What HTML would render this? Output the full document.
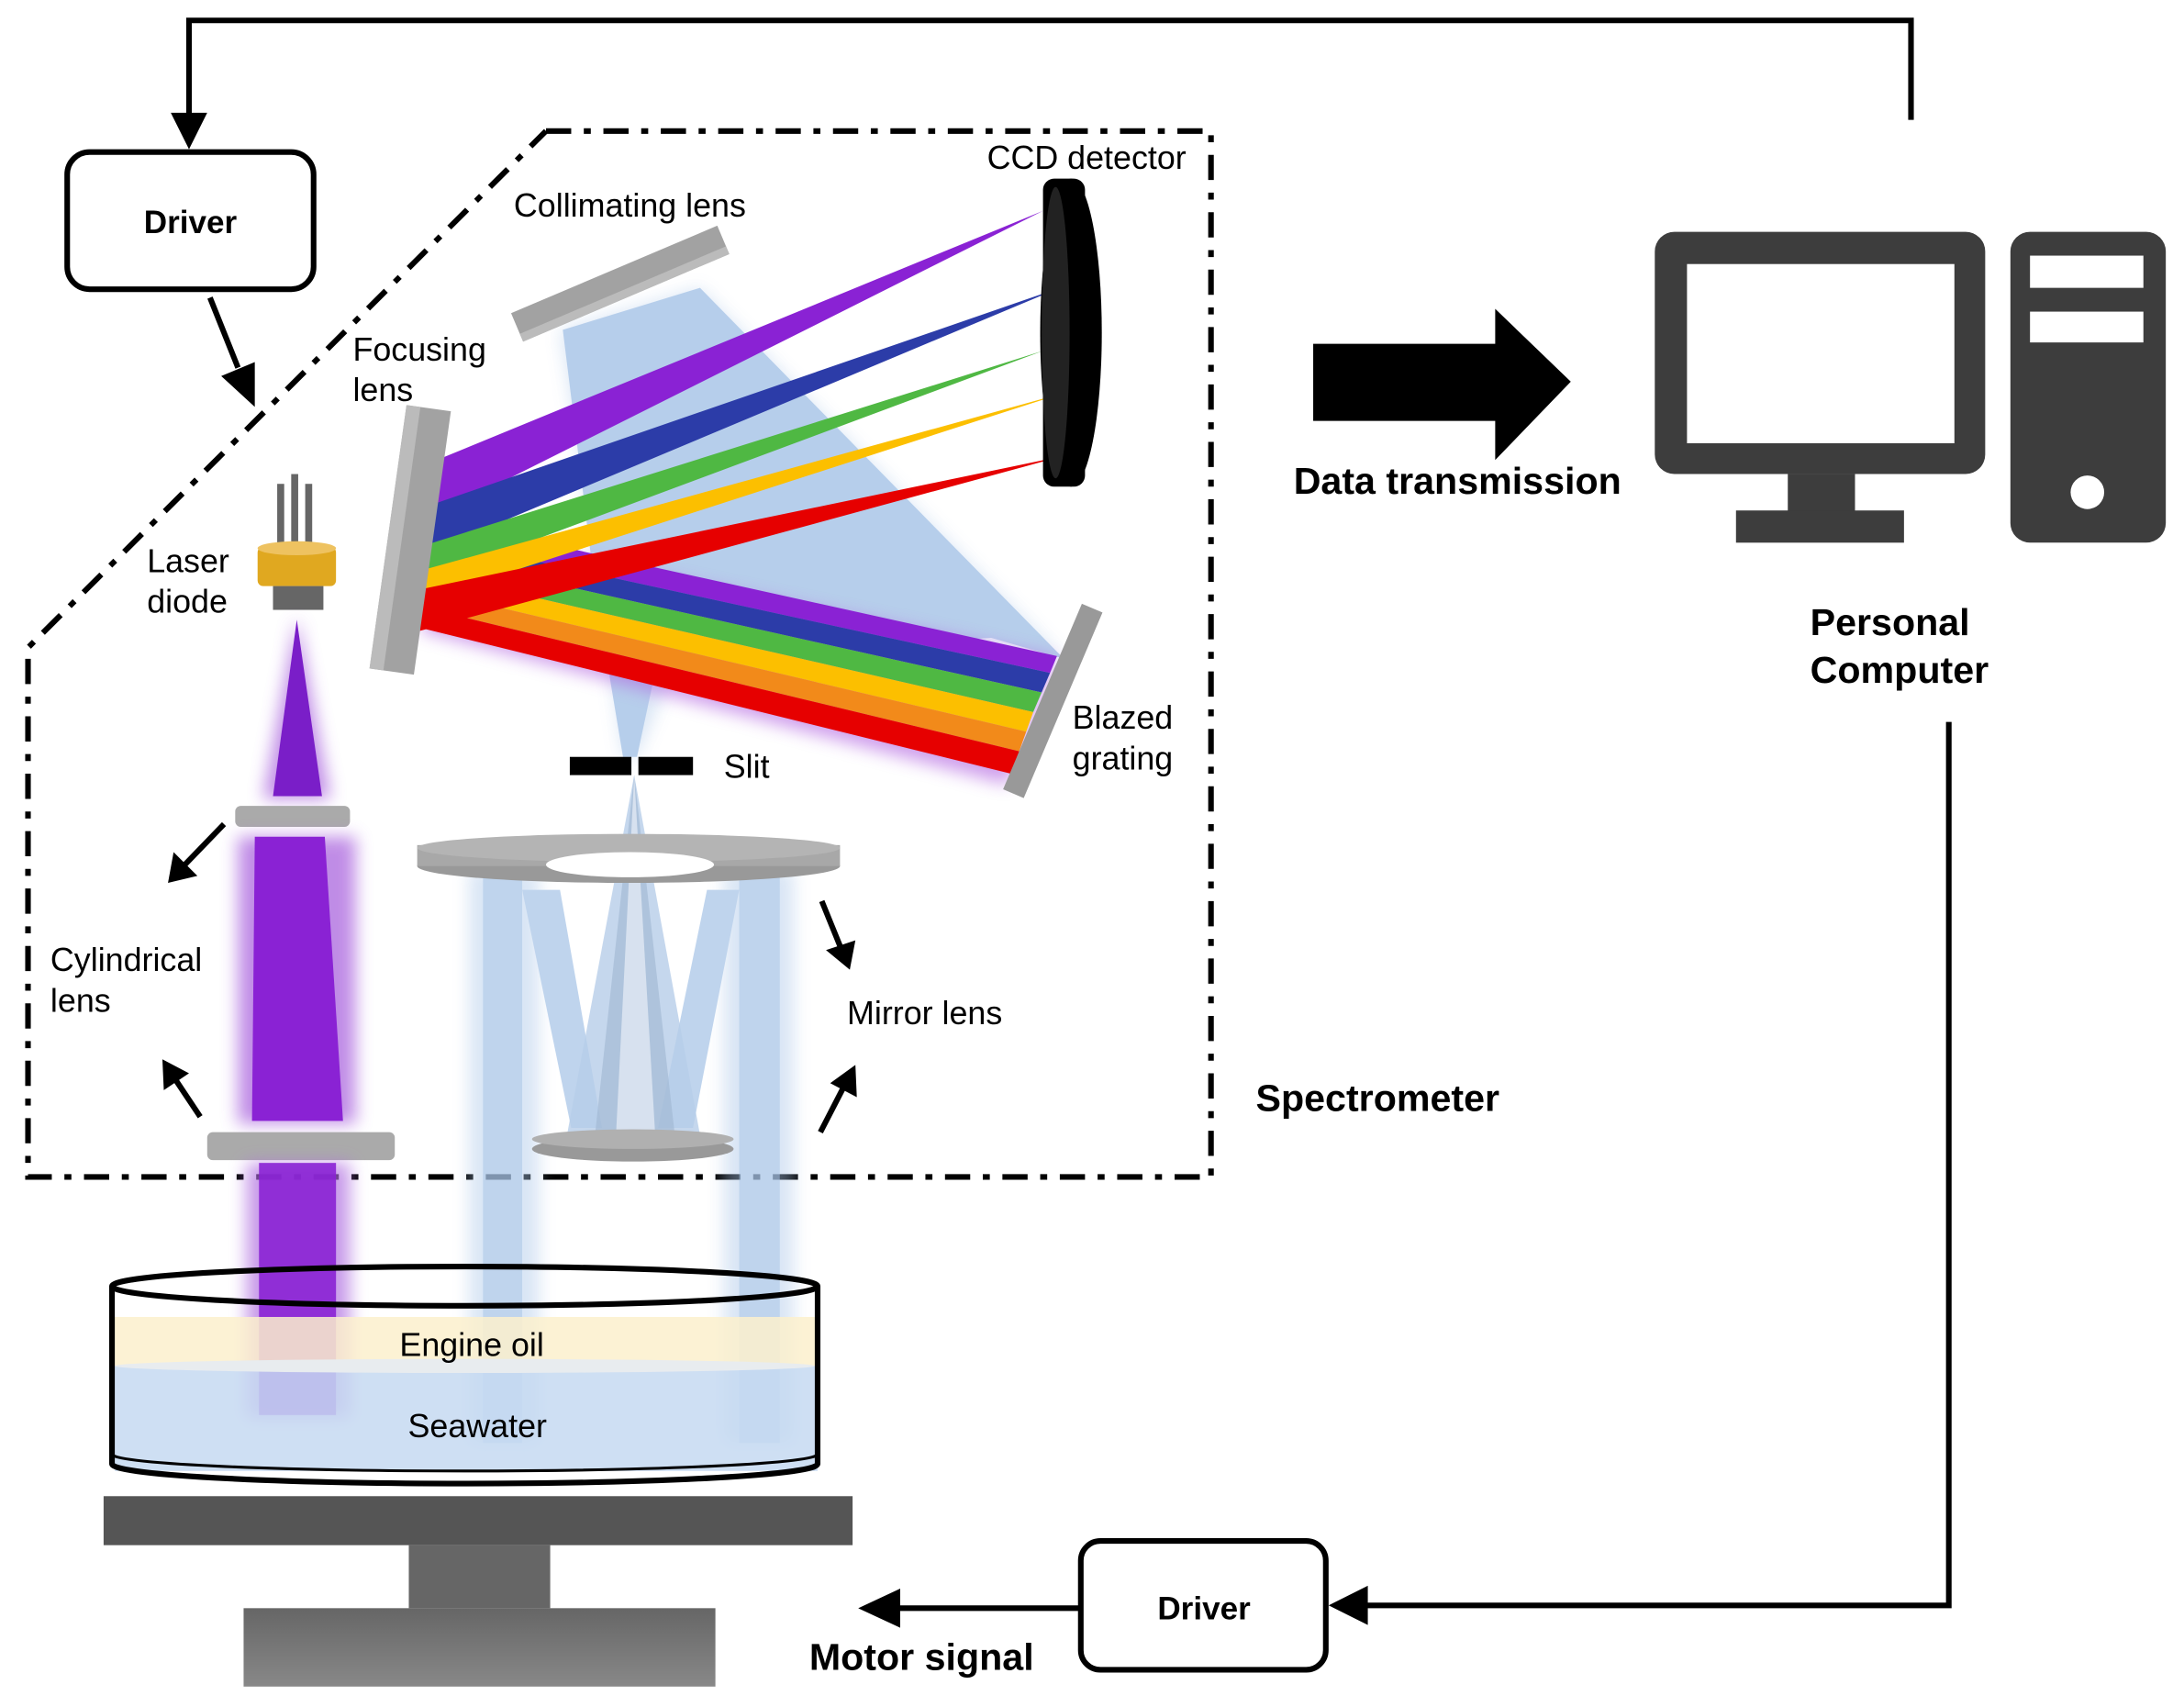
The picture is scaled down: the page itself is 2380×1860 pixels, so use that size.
<!DOCTYPE html>
<html><head><meta charset="utf-8"><style>
html,body{margin:0;padding:0;background:#fff}
svg{display:block}
text{font-family:"Liberation Sans",Arial,sans-serif}
</style></head><body>
<svg width="2380" height="1860" viewBox="0 0 1560 1218" xmlns="http://www.w3.org/2000/svg">
<defs>
<filter id="blur" x="-30%" y="-30%" width="160%" height="160%"><feGaussianBlur stdDeviation="6"/></filter>
<linearGradient id="stand" x1="0" y1="0" x2="0" y2="1"><stop offset="0" stop-color="#666"/><stop offset="1" stop-color="#888"/></linearGradient>
</defs>

<polyline points="1365,85 1365,14 135,14 135,92" fill="none" stroke="#000" stroke-width="4"/>
<path d="M122,80 L148,80 L135,106z" fill="#000"/>
<rect x="48" y="108" width="176" height="98" rx="16" fill="#fff" stroke="#000" stroke-width="4"/>
<text x="136" y="166" font-size="23" font-weight="bold" text-anchor="middle">Driver</text>
<line x1="150" y1="212" x2="170" y2="262" stroke="#000" stroke-width="4"/>
<path d="M158,268 L182,258 L182,290z" fill="#000"/>

<polyline points="390,93 865,93 865,840 20,840 20,462 390,93" fill="none" stroke="#000" stroke-width="4" stroke-dasharray="18 9 5 9"/>

<g opacity="0.85">
<polygon points="400,235 500,205 760,470 705,455 480,480 455,540 445,540 430,430" fill="#aac6e8" filter="url(#blur)" opacity="0.5"/>
<polygon points="402,235 500,205 760,470 708,455 470,470 455,540 445,540 425,420" fill="#aac6e8"/>
</g>

<g transform="translate(443,202) rotate(-23)"><rect x="-80" y="-11" width="160" height="22" fill="#a2a2a2"/><rect x="-80" y="5" width="160" height="6" fill="#bbb"/></g>

<g filter="url(#blur)" opacity="0.6">
<polygon points="320,380 755,470 720,560 300,450" fill="#b060e0"/>
</g>
<polygon points="320,372 755,468 750,480 318,386" fill="#8a22d4"/>
<polygon points="318,386 750,480 744,494 314,398" fill="#2c3ca8"/>
<polygon points="314,398 744,494 738,508 312,410" fill="#4fb843"/>
<polygon points="312,410 738,508 733,522 309,422" fill="#fcbf00"/>
<polygon points="309,422 733,522 728,536 305,434" fill="#f28a1a"/>
<polygon points="305,434 728,536 722,552 301,448" fill="#e60000"/>

<polygon points="312,328 745,150 310,368" fill="#8a22d4"/>
<polygon points="308,360 757,205 306,394" fill="#2c3ca8"/>
<polygon points="306,388 745,250 304,414" fill="#4fb843"/>
<polygon points="304,406 760,280 302,428" fill="#fcbf00"/>
<polygon points="302,420 760,325 300,450" fill="#e60000"/>

<g transform="translate(293,385) rotate(8)"><rect x="-16" y="-95" width="32" height="190" fill="#a2a2a2"/><rect x="-16" y="-95" width="10" height="190" fill="#bbb"/></g>

<ellipse cx="765" cy="237" rx="22" ry="110" fill="#000"/>
<rect x="745" y="127" width="30" height="220" rx="8" fill="#000"/>
<ellipse cx="754" cy="237" rx="10" ry="104" fill="#222"/>

<g transform="translate(752,500) rotate(23)"><rect x="-8" y="-72" width="16" height="144" fill="#999"/></g>

<rect x="407" y="540" width="44" height="13" fill="#000"/>
<rect x="456" y="540" width="39" height="13" fill="#000"/>

<g opacity="0.75">
<g filter="url(#blur)" opacity="0.6"><rect x="335" y="620" width="50" height="410" fill="#aac6e8"/><rect x="517" y="620" width="50" height="410" fill="#aac6e8"/></g>
<rect x="345" y="625" width="28" height="405" fill="#aac6e8"/>
<rect x="528" y="625" width="29" height="405" fill="#aac6e8"/>
<polygon points="373,635 400,635 430,805 408,805" fill="#aac6e8"/>
<polygon points="528,635 505,635 470,805 495,805" fill="#aac6e8"/>
</g>
<polygon points="453,553 405,810 500,810" fill="#b6cde8" opacity="0.8"/>
<polygon points="453,553 425,810 482,810" fill="#9eb6d0" opacity="0.6"/>
<polygon points="453,553 440,810 468,810" fill="#e8eef6" opacity="0.7"/>

<ellipse cx="449" cy="618" rx="151" ry="12" fill="#999"/>
<rect x="298" y="603" width="302" height="15" fill="#a8a8a8"/>
<ellipse cx="449" cy="605" rx="151" ry="10" fill="#b4b4b4"/>
<ellipse cx="450" cy="617" rx="60" ry="9" fill="#fff"/>
<ellipse cx="452" cy="820" rx="72" ry="9" fill="#999"/>
<ellipse cx="452" cy="813" rx="72" ry="7" fill="#b0b0b0"/>

<rect x="198" y="345" width="5" height="45" fill="#666"/>
<rect x="208" y="338" width="5" height="52" fill="#666"/>
<rect x="218" y="345" width="5" height="45" fill="#666"/>
<rect x="184" y="390" width="56" height="28" rx="4" fill="#e0a820"/>
<ellipse cx="212" cy="391" rx="28" ry="5" fill="#eec260"/>
<rect x="195" y="418" width="36" height="17" fill="#666"/>
<polygon points="212,440 188,570 236,570" fill="#b070e0" filter="url(#blur)" opacity="0.8"/>
<polygon points="212,442 195,568 230,568" fill="#7a1ec8"/>
<rect x="168" y="575" width="82" height="15" rx="4" fill="#aaa"/>
<rect x="170" y="597" width="84" height="205" fill="#b070e0" filter="url(#blur)" opacity="0.8"/>
<polygon points="182,597 232,597 245,800 180,800" fill="#8a22d4"/>
<rect x="148" y="808" width="134" height="20" rx="4" fill="#aaa"/>
<rect x="176" y="830" width="74" height="182" fill="#b070e0" filter="url(#blur)" opacity="0.7"/>
<rect x="185" y="830" width="55" height="180" fill="#8a22d4" opacity="0.9"/>

<rect x="82" y="940" width="502" height="35" fill="#fcf0cc" opacity="0.85"/>
<rect x="82" y="975" width="502" height="75" fill="#c5d9f1" opacity="0.85"/>
<ellipse cx="332" cy="975" rx="250" ry="5" fill="#e8ecef"/>
<ellipse cx="332" cy="918" rx="252" ry="14" fill="none" stroke="#000" stroke-width="4"/>
<path d="M80,918 L80,1045 A252,14 0 0 0 584,1045 L584,918" fill="none" stroke="#000" stroke-width="4"/>
<path d="M80,1038 A252,12 0 0 0 584,1038" fill="none" stroke="#000" stroke-width="2"/>
<text x="337" y="968" font-size="23.5" text-anchor="middle">Engine oil</text>
<text x="341" y="1026" font-size="23.5" text-anchor="middle">Seawater</text>

<rect x="74" y="1068" width="535" height="35" fill="#555"/>
<rect x="292" y="1103" width="101" height="45" fill="#666"/>
<rect x="174" y="1148" width="337" height="56" fill="url(#stand)"/>

<g stroke="#000" stroke-width="4">
<line x1="160" y1="588" x2="132" y2="617"/>
<line x1="143" y1="797" x2="125" y2="770"/>
<line x1="587" y1="643" x2="600" y2="675"/>
<line x1="586" y1="808" x2="602" y2="777"/>
</g>
<path d="M120,630 L124,608 L141,625z" fill="#000"/>
<path d="M116,756 L135,766 L117,778z" fill="#000"/>
<path d="M607,692 L590,678 L611,671z" fill="#000"/>
<path d="M611,760 L612,783 L593,773z" fill="#000"/>

<g font-size="23.5">
<text x="705" y="120">CCD detector</text>
<text x="367" y="154">Collimating lens</text>
<text x="252" y="257">Focusing</text>
<text x="252" y="286">lens</text>
<text x="105" y="408">Laser</text>
<text x="105" y="437">diode</text>
<text x="766" y="520">Blazed</text>
<text x="766" y="549">grating</text>
<text x="517" y="555">Slit</text>
<text x="36" y="693">Cylindrical</text>
<text x="36" y="722">lens</text>
<text x="605" y="731">Mirror lens</text>
</g>
<g font-size="27" font-weight="bold">
<text x="897" y="793">Spectrometer</text>
<text x="924" y="352">Data transmission</text>
<text x="1293" y="453">Personal</text>
<text x="1293" y="487">Computer</text>
<text x="578" y="1192">Motor signal</text>
</g>

<polygon points="938,245 1068,245 1068,220 1122,272 1068,328 1068,300 938,300" fill="#000"/>

<rect x="1182" y="165" width="236" height="173" rx="14" fill="#3d3d3d"/>
<rect x="1205" y="188" width="191" height="128" fill="#fff"/>
<rect x="1277" y="338" width="48" height="28" fill="#3d3d3d"/>
<rect x="1240" y="364" width="120" height="23" fill="#3d3d3d"/>
<rect x="1436" y="165" width="111" height="222" rx="14" fill="#3d3d3d"/>
<rect x="1450" y="182" width="81" height="23" fill="#fff"/>
<rect x="1450" y="222" width="81" height="22" fill="#fff"/>
<circle cx="1491" cy="351" r="12" fill="#fff"/>

<polyline points="1392,515 1392,1146 975,1146" fill="none" stroke="#000" stroke-width="4"/>
<path d="M949,1146 L977,1132 L977,1160z" fill="#000"/>
<rect x="772" y="1100" width="175" height="92" rx="14" fill="#fff" stroke="#000" stroke-width="4"/>
<text x="860" y="1156" font-size="23" font-weight="bold" text-anchor="middle">Driver</text>
<line x1="772" y1="1148" x2="640" y2="1148" stroke="#000" stroke-width="4"/>
<path d="M613,1148 L643,1134 L643,1162z" fill="#000"/>
</svg>
</body></html>
